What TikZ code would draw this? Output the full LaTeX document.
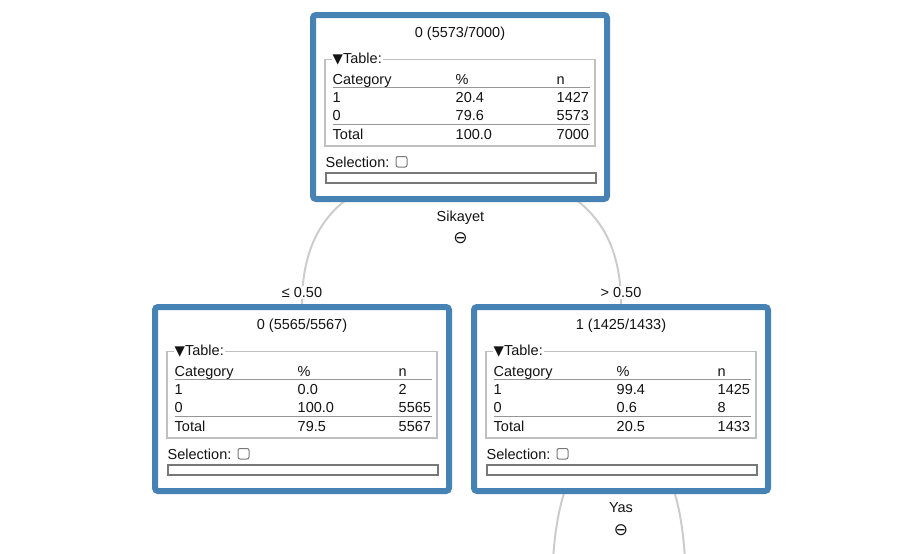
\documentclass[tikz,border=0pt]{standalone}
\usepackage{fontspec}
\setmainfont{Liberation Sans}
\newfontfamily\dejavu{DejaVu Sans}
\definecolor{boxblue}{RGB}{70,130,180}
\definecolor{edgegray}{RGB}{204,204,204}
\definecolor{fsgray}{RGB}{192,192,192}
\definecolor{rulegray}{RGB}{150,150,150}
\definecolor{bargray}{RGB}{120,120,120}
\definecolor{txt}{RGB}{20,20,20}
\newcommand\dtfont{\fontsize{14.5pt}{17pt}\selectfont}
\tikzset{
  treebox/.style={draw=boxblue, line width=6pt, fill=white, rounded corners=3pt,
    minimum width=294pt, minimum height=184pt, inner sep=0pt},
  ttl/.style={anchor=base, inner sep=0pt, font=\dtfont, text=txt},
  cell/.style={anchor=base west, inner sep=0pt, font=\dtfont, text=txt},
  lgd/.style={anchor=base west, inner xsep=1pt, inner ysep=1.5pt, fill=white, font=\dtfont, text=txt},
  fset/.style={draw=fsgray, line width=1.6pt},
  trule/.style={draw=rulegray, line width=1pt},
  barbox/.style={draw=bargray, line width=2pt, fill=white},
  chkbox/.style={draw=bargray, line width=1pt, rounded corners=2pt},
  edge/.style={draw=edgegray, line width=2pt},
  elabel/.style={anchor=base, fill=white, inner sep=1.5pt, font=\dtfont, text=txt},
  splitlbl/.style={anchor=base, inner sep=0pt, font=\dtfont, text=txt},
  splitsym/.style={inner sep=0pt, font=\dejavu\fontsize{17pt}{19pt}\selectfont, text=txt},
}
\newcommand\dtbox[9]{%
\begin{scope}[shift={#2}]
  \node[treebox] (#1) at (150,95) {};
  \node[ttl] (#1-t) at (150,25) {#3};
  \draw[fset] (14.8,47.3) rectangle (285.2,133.8);
  \node[lgd] (#1-lg) at (21.5,51) {{\dejavu\fontsize{13.5pt}{14pt}\selectfont ▼}Table:};
  \node[cell] (#1-h1) at (22.5,72) {Category};
  \node[cell] (#1-h2) at (145.5,72) {\%};
  \node[cell] (#1-h3) at (246.5,72) {n};
  \draw[trule] (22.5,75) -- (280,75);
  \node[cell] (#1-a1) at (22.5,90) {1};
  \node[cell] (#1-a2) at (145.5,90) {#4};
  \node[cell] (#1-a3) at (246.5,90) {#5};
  \node[cell] (#1-b1) at (22.5,108.5) {0};
  \node[cell] (#1-b2) at (145.5,108.5) {#6};
  \node[cell] (#1-b3) at (246.5,108.5) {#7};
  \draw[trule] (22.5,112) -- (280,112);
  \node[cell] (#1-c1) at (22.5,127) {Total};
  \node[cell] (#1-c2) at (145.5,127) {#8};
  \node[cell] (#1-c3) at (246.5,127) {#9};
  \node[cell] (#1-sel) at (15.5,155) {Selection:};
  \draw[chkbox] (86,144.5) rectangle (97,155);
  \draw[barbox] (16,160.5) rectangle (286,170.5);
\end{scope}}
\begin{document}
\begin{tikzpicture}[x=1pt, y=-1pt]
\path[use as bounding box] (0,0) rectangle (916,554);
\clip (0,0) rectangle (916,554);
% anchor coordinates for the connectors
\coordinate (s0) at (460,170);
\coordinate (s2) at (621,441);
\coordinate (c21) at (552,595);
\coordinate (c22) at (686,595);
% connectors (behind boxes)
\path[edge] (s0) .. controls (354.7,170) and (302,214.7) .. (302,304) coordinate (e1);
\path[edge] (s0) .. controls (567.3,170) and (621,214.7) .. (621,304) coordinate (e2);
\path[edge] (s2) .. controls (575,441) and (552,492.3) .. (c21);
\path[edge] (s2) .. controls (664.3,441) and (686,492.3) .. (c22);
% boxes
\dtbox{n0}{(310,12)}{0 (5573/7000)}{20.4}{1427}{79.6}{5573}{100.0}{7000}
\dtbox{n1}{(152,304)}{0 (5565/5567)}{0.0}{2}{100.0}{5565}{79.5}{5567}
\dtbox{n2}{(471,304)}{1 (1425/1433)}{99.4}{1425}{0.6}{8}{20.5}{1433}
% split labels
\node[splitlbl] (sp0) at (460.5,221) {Sikayet};
\node[splitsym] (sp0s) at (460.5,238) {⊖};
\node[splitlbl] (sp2) at (621,512) {Yas};
\node[splitsym] (sp2s) at (621,530) {⊖};
% edge labels
\node[elabel] (l1) at (302,297.3) {≤ 0.50};
\node[elabel] (l2) at (621,297.3) {> 0.50};
\end{tikzpicture}
\end{document}
